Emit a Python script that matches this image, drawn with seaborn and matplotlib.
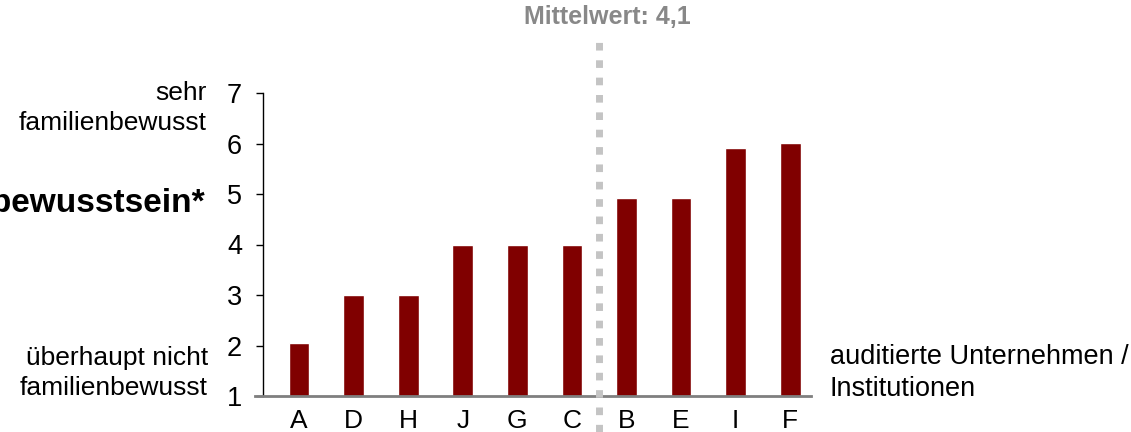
import matplotlib
matplotlib.use("Agg")
import matplotlib.pyplot as plt
import seaborn as sns
import pandas as pd

# Familienbewusstsein der auditierten Unternehmen / Institutionen
companies = ["A", "D", "H", "J", "G", "C", "B", "E", "I", "F"]
scores = [2.05, 3.0, 3.0, 4.0, 4.0, 4.0, 4.93, 4.93, 5.91, 6.01]
y_ticks = [1, 2, 3, 4, 5, 6, 7]
mean_label = "Mittelwert: 4,1"
mean_position = 5.5  # between C and B
title_text = "Familienbewusstsein*"
top_label = "sehr\nfamilienbewusst"
bottom_label = "überhaupt nicht\nfamilienbewusst"
x_label = "auditierte Unternehmen /\nInstitutionen"

sns.set_style("ticks")
plt.rcParams["font.family"] = ["Liberation Sans", "DejaVu Sans"]
plt.rcParams["text.color"] = "black"
plt.rcParams["xtick.color"] = "black"
plt.rcParams["ytick.color"] = "black"

df = pd.DataFrame({"company": companies, "score": scores})

W, H = 1131, 432
fig = plt.figure(figsize=(W / 100, H / 100), dpi=100)
ax = fig.add_axes([263 / W, (H - 396) / H, (811 - 263) / W, (396 - 93) / H])

sns.barplot(data=df, x="company", y="score", color="#800000", saturation=1,
            width=0.38, ax=ax)

ax.set_xlim(-0.66, 9.38)
ax.set_ylim(1, 7)
ax.set_yticks(y_ticks)
ax.set_xlabel("")
ax.set_ylabel("")

ax.tick_params(axis="y", direction="out", length=5, width=1, color="black",
               labelsize=19.5, pad=10, labelcolor="black")
ax.tick_params(axis="x", length=0, labelsize=19, pad=9, labelcolor="black")

for side in ("top", "right"):
    ax.spines[side].set_visible(False)
ax.spines["left"].set_color("black")
ax.spines["left"].set_linewidth(1)
ax.spines["bottom"].set_color("#7f7f7f")
ax.spines["bottom"].set_linewidth(2)
ax.spines["bottom"].set_bounds(-0.8, 9.38)

# dotted mean marker
ax.axvline(mean_position, ymin=-0.12, ymax=1.18, color="#c4c4c4", lw=5,
           linestyle=(0, (1.1, 1.4)), dash_capstyle="butt", clip_on=False,
           zorder=3)

fig.text(607 / W, 1 - 17 / H, mean_label, ha="center", va="center",
         fontsize=18, fontweight="bold", color="#888888")

fig.text(207 / W, 1 - 108 / H, top_label, ha="right", va="center",
         fontsize=19, linespacing=1.35)
fig.text(208 / W, 1 - 373 / H, bottom_label, ha="right", va="center",
         fontsize=19, linespacing=1.35)
fig.text(830 / W, 1 - 373 / H, x_label, ha="left", va="center",
         fontsize=19.5, linespacing=1.35)
fig.text(206 / W, 1 - 203 / H, title_text, ha="right", va="center",
         fontsize=24, fontweight="bold")

fig.savefig("out.png", dpi=100, facecolor="white")
